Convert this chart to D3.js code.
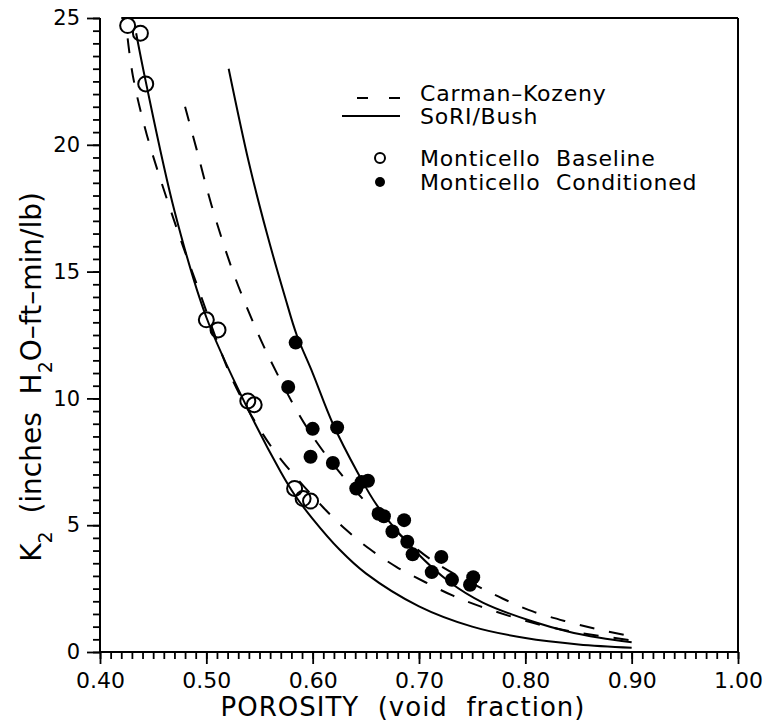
<!DOCTYPE html>
<html>
<head>
<meta charset="utf-8">
<script src="https://cdn.jsdelivr.net/npm/d3@7"></script>
<style>
  html, body { margin: 0; padding: 0; background: #fff; }
  svg { display: block; font-family: "DejaVu Sans", sans-serif; }
  text { white-space: pre; fill: #000; }
</style>
</head>
<body>
<svg id="chart" width="763" height="725"></svg>
<script>
// Monticello Baseline samples (open circles)
const baselinePorosity = [0.426, 0.438, 0.443, 0.500, 0.511, 0.539, 0.545, 0.583, 0.591, 0.598];
const baselineK2       = [24.7, 24.4, 22.4, 13.1, 12.7, 9.9, 9.75, 6.45, 6.05, 5.95];

// Monticello Conditioned samples (filled circles)
const conditionedPorosity = [0.584, 0.577, 0.600, 0.623, 0.598, 0.619, 0.641, 0.646, 0.652,
                             0.662, 0.667, 0.686, 0.675, 0.689, 0.694, 0.721, 0.712, 0.731, 0.751, 0.748];
const conditionedK2       = [12.2, 10.45, 8.8, 8.85, 7.7, 7.45, 6.45, 6.7, 6.75,
                             5.45, 5.35, 5.2, 4.75, 4.35, 3.85, 3.75, 3.15, 2.85, 2.95, 2.65];

// Carman-Kozeny model, baseline fit (dashed)
const ckBasePorosity = [0.426, 0.431, 0.444, 0.469, 0.491, 0.525, 0.553, 0.571, 0.610, 0.632, 0.654, 0.679, 0.706, 0.732, 0.757, 0.807, 0.845, 0.900];
const ckBaseK2       = [24.2, 22.7, 20.4, 17.1, 14.5, 10.7, 8.6, 7.55, 5.7, 4.8, 4.05, 3.35, 2.75, 2.22, 1.81, 1.15, 0.80, 0.46];

// Carman-Kozeny model, conditioned fit (dashed)
const ckCondPorosity = [0.480, 0.491, 0.505, 0.525, 0.544, 0.558, 0.586, 0.605, 0.630, 0.661, 0.710, 0.755, 0.779, 0.807, 0.839, 0.870, 0.900];
const ckCondK2       = [21.5, 19.8, 17.6, 15.0, 13.0, 11.7, 9.45, 8.2, 6.85, 5.45, 3.68, 2.6, 2.1, 1.6, 1.2, 0.88, 0.62];

// SoRI/Bush model, baseline fit (solid)
const sbBasePorosity = [0.434, 0.443, 0.470, 0.500, 0.540, 0.570, 0.583, 0.600, 0.625, 0.650, 0.700, 0.750, 0.800, 0.850, 0.900];
const sbBaseK2       = [24.4, 22.5, 17.4, 13.2, 9.5, 7.1, 6.2, 5.25, 4.05, 3.1, 1.8, 1.0, 0.55, 0.30, 0.17];

// SoRI/Bush model, conditioned fit (solid)
const sbCondPorosity = [0.521, 0.540, 0.557, 0.574, 0.585, 0.600, 0.619, 0.642, 0.661, 0.696, 0.729, 0.760, 0.807, 0.839, 0.870, 0.900];
const sbCondK2       = [23.0, 19.3, 16.5, 14.0, 12.5, 11.0, 9.0, 7.1, 5.75, 4.0, 2.75, 1.95, 1.2, 0.82, 0.56, 0.38];

// Axis ticks and labels
const xMajorTicks = [0.40, 0.50, 0.60, 0.70, 0.80, 0.90, 1.00];
const yMajorTicks = [0, 5, 10, 15, 20, 25];
const xMinorStep = 0.01;
const yMinorStep = 0.5;

const xTitle = "POROSITY  (void  fraction)";
const legendLabels = ["Carman\u2013Kozeny", "SoRI/Bush", "Monticello  Baseline", "Monticello  Conditioned"];

const svg = d3.select("#chart");
const x = d3.scaleLinear().domain([0.4, 1.0]).range([100, 738]);
const y = d3.scaleLinear().domain([0, 25]).range([652, 18]);

const xMinor = d3.range(0, 61).map(i => +(0.4 + i * xMinorStep).toFixed(2));
const yMinor = d3.range(0, 51).map(i => i * yMinorStep);

// Bottom axis: minor then major ticks, pointing outward
const gx = svg.append("g").attr("transform", `translate(0,${y(0)})`);
gx.append("g").call(d3.axisBottom(x).tickValues(xMinor).tickSize(7).tickFormat(""));
gx.append("g").call(d3.axisBottom(x).tickValues(xMajorTicks).tickSize(12).tickPadding(8)
  .tickFormat(d3.format(".2f")));
gx.selectAll("path.domain").remove();
gx.selectAll("line").attr("stroke", "#000").attr("stroke-width", 1.8);
gx.selectAll("text").attr("font-size", 22).attr("font-family", "DejaVu Sans, sans-serif");

// Left axis
const gy = svg.append("g").attr("transform", `translate(${x(0.4)},0)`);
gy.append("g").call(d3.axisLeft(y).tickValues(yMinor).tickSize(7).tickFormat(""));
gy.append("g").call(d3.axisLeft(y).tickValues(yMajorTicks).tickSize(13).tickPadding(7)
  .tickFormat(d3.format("d")));
gy.selectAll("path.domain").remove();
gy.selectAll("line").attr("stroke", "#000").attr("stroke-width", 1.8);
gy.selectAll("text").attr("font-size", 21).attr("font-family", "DejaVu Sans, sans-serif");

// Plot frame
const frame = svg.append("g").attr("stroke", "#000").attr("stroke-width", 2).attr("fill", "none");
frame.append("line").attr("x1", x(0.4)).attr("x2", x(0.4)).attr("y1", y(25)).attr("y2", y(0));
frame.append("line").attr("x1", x(0.4)).attr("x2", x(1.0)).attr("y1", y(0)).attr("y2", y(0));
frame.append("line").attr("x1", x(1.0)).attr("x2", x(1.0)).attr("y1", y(25)).attr("y2", y(0));
frame.append("line").attr("x1", x(0.42)).attr("x2", x(1.0)).attr("y1", y(25)).attr("y2", y(25));

// Model curves
const line = d3.line().x(d => x(d[0])).y(d => y(d[1])).curve(d3.curveCatmullRom.alpha(0.5));
const curves = [
  { px: ckBasePorosity, k: ckBaseK2, dash: "15,15" },
  { px: ckCondPorosity, k: ckCondK2, dash: "15,15" },
  { px: sbBasePorosity, k: sbBaseK2, dash: null },
  { px: sbCondPorosity, k: sbCondK2, dash: null }
];
svg.append("g").selectAll("path").data(curves).join("path")
  .attr("d", c => line(d3.zip(c.px, c.k)))
  .attr("fill", "none").attr("stroke", "#000").attr("stroke-width", 2)
  .attr("stroke-dasharray", c => c.dash);

// Data points
svg.append("g").selectAll("circle").data(d3.zip(baselinePorosity, baselineK2)).join("circle")
  .attr("cx", d => x(d[0])).attr("cy", d => y(d[1])).attr("r", 7.5)
  .attr("fill", "none").attr("stroke", "#000").attr("stroke-width", 2);
svg.append("g").selectAll("circle").data(d3.zip(conditionedPorosity, conditionedK2)).join("circle")
  .attr("cx", d => x(d[0])).attr("cy", d => y(d[1])).attr("r", 7)
  .attr("fill", "#000");

// Legend
const lg = svg.append("g").attr("font-size", 22).attr("letter-spacing", 0.8);
lg.append("line").attr("x1", 357).attr("x2", 400).attr("y1", 98).attr("y2", 98)
  .attr("stroke", "#000").attr("stroke-width", 2).attr("stroke-dasharray", "11,21");
lg.append("line").attr("x1", 342).attr("x2", 400).attr("y1", 116).attr("y2", 116)
  .attr("stroke", "#000").attr("stroke-width", 2);
lg.append("circle").attr("cx", 380).attr("cy", 158).attr("r", 5)
  .attr("fill", "none").attr("stroke", "#000").attr("stroke-width", 2);
lg.append("circle").attr("cx", 380).attr("cy", 182).attr("r", 5).attr("fill", "#000");
const legendY = [93, 116, 158, 182];
lg.selectAll("text").data(legendLabels).join("text")
  .attr("x", 420).attr("y", (d, i) => legendY[i]).attr("dy", "0.36em").text(d => d);

// Axis titles
svg.append("text").attr("x", 403).attr("y", 716)
  .attr("text-anchor", "middle").attr("font-size", 26).attr("letter-spacing", 1)
  .text(xTitle);

const yt = svg.append("text").attr("transform", "translate(31,377) rotate(-90)")
  .attr("text-anchor", "middle").attr("dy", "0.36em").attr("font-size", 28);
yt.append("tspan").text("K");
yt.append("tspan").attr("baseline-shift", "sub").attr("font-size", 19).text("2");
yt.append("tspan").text("  (inches  H");
yt.append("tspan").attr("baseline-shift", "sub").attr("font-size", 19).text("2");
yt.append("tspan").text("O\u2013ft\u2013min/lb)");
</script>
</body>
</html>
